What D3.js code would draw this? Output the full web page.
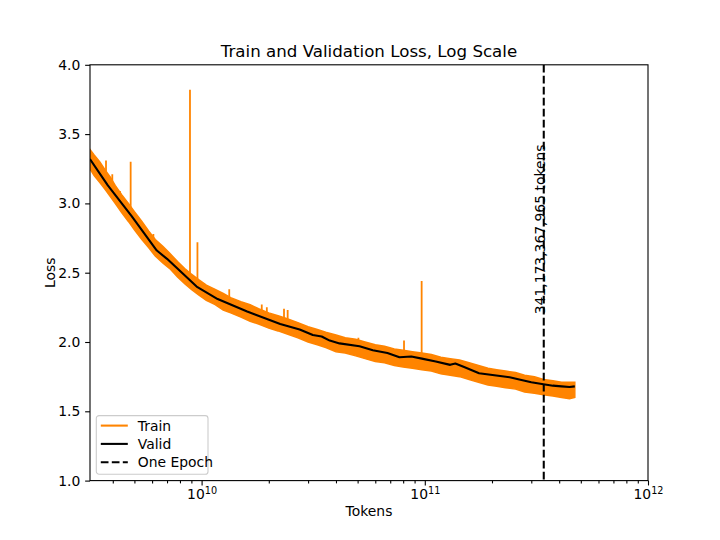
<!DOCTYPE html>
<html>
<head>
<meta charset="utf-8">
<script src="https://cdn.jsdelivr.net/npm/d3@7"></script>
<style>
    body { margin: 0; background: #fff; }
    text { font-family: "DejaVu Sans", sans-serif; fill: #000; }
</style>
</head>
<body>
<div id="loss-chart"></div>
<script>
// train loss band (upper and lower edge of the noisy curve)
var trainTokens = [3.16e9, 3.3e9, 3.5e9, 3.7e9, 3.9e9, 4.1e9, 4.4e9, 4.7e9, 5.0e9, 5.4e9,
    5.8e9, 6.2e9, 6.7e9, 7.2e9, 7.8e9, 8.4e9, 9.0e9, 9.7e9, 1.05e10, 1.15e10,
    1.25e10, 1.35e10, 1.5e10, 1.65e10, 1.8e10, 2.0e10, 2.2e10, 2.4e10, 2.7e10, 3.0e10,
    3.3e10, 3.6e10, 4.0e10, 4.4e10, 4.9e10, 5.4e10, 6.0e10, 6.6e10, 7.3e10, 8.0e10,
    8.8e10, 9.7e10, 1.07e11, 1.18e11, 1.3e11, 1.43e11, 1.58e11, 1.74e11, 1.92e11, 2.1e11,
    2.3e11, 2.55e11, 2.8e11, 3.1e11, 3.4e11, 3.75e11, 4.1e11, 4.45e11, 4.7e11];
var trainHigh = [3.39, 3.35, 3.30, 3.24, 3.19, 3.13, 3.06, 3.00, 2.94, 2.87,
    2.80, 2.74, 2.69, 2.64, 2.58, 2.53, 2.49, 2.45, 2.41, 2.38,
    2.35, 2.32, 2.29, 2.27, 2.24, 2.21, 2.19, 2.17, 2.14, 2.11,
    2.09, 2.07, 2.05, 2.03, 2.02, 2.00, 1.98, 1.97, 1.95, 1.94,
    1.93, 1.92, 1.91, 1.89, 1.88, 1.87, 1.85, 1.83, 1.81, 1.80,
    1.79, 1.78, 1.76, 1.75, 1.73, 1.72, 1.71, 1.71, 1.71];
var trainLow = [3.25, 3.20, 3.15, 3.10, 3.05, 3.00, 2.93, 2.87, 2.81, 2.74,
    2.68, 2.62, 2.57, 2.53, 2.47, 2.42, 2.38, 2.34, 2.30, 2.27,
    2.23, 2.21, 2.18, 2.15, 2.13, 2.10, 2.08, 2.06, 2.03, 2.00,
    1.98, 1.96, 1.93, 1.92, 1.90, 1.88, 1.86, 1.85, 1.83, 1.82,
    1.81, 1.80, 1.79, 1.77, 1.76, 1.75, 1.73, 1.71, 1.69, 1.68,
    1.67, 1.66, 1.64, 1.63, 1.62, 1.61, 1.60, 1.59, 1.60];

// loss spikes sticking out of the train band
var spikeTokens = [3.73e9, 3.98e9, 4.31e9, 4.81e9, 6.08e9, 8.87e9, 9.58e9, 1.33e10,
    1.86e10, 1.96e10, 2.34e10, 2.43e10, 5.04e10, 8.07e10, 9.68e10];
var spikeBase = [3.15, 3.08, 3.00, 2.90, 2.66, 2.42, 2.38, 2.26,
    2.18, 2.16, 2.12, 2.11, 1.96, 1.90, 1.88];
var spikePeak = [3.31, 3.21, 3.09, 3.30, 2.78, 3.82, 2.72, 2.38,
    2.27, 2.25, 2.24, 2.23, 2.03, 2.01, 2.44];

// validation loss
var validTokens = [3.16e9, 3.8e9, 4.85e9, 6.3e9, 7.0e9, 9.5e9, 1.18e10, 1.6e10, 2.25e10, 2.75e10,
    3.15e10, 3.45e10, 3.75e10, 4.15e10, 5.1e10, 5.85e10, 6.8e10, 7.7e10, 8.7e10, 9.7e10,
    1.12e11, 1.3e11, 1.37e11, 1.5e11, 1.75e11, 2.05e11, 2.4e11, 2.65e11, 3.0e11, 3.4e11,
    3.75e11, 4.1e11, 4.45e11, 4.7e11];
var validLoss = [3.32, 3.13, 2.91, 2.66, 2.60, 2.40, 2.31, 2.22, 2.13, 2.09,
    2.05, 2.04, 2.01, 1.99, 1.97, 1.94, 1.92, 1.89, 1.895, 1.88,
    1.86, 1.835, 1.845, 1.82, 1.775, 1.76, 1.745, 1.73, 1.71, 1.695,
    1.685, 1.68, 1.675, 1.68];

var epochTokens = 341173367965;
var epochLabel = "341,173,367,965 tokens";
var epochLabelLoss = 2.2;

var yTicks = [1.0, 1.5, 2.0, 2.5, 3.0, 3.5, 4.0];
var xTicks = [1e10, 1e11, 1e12];
var xExponents = ["10", "11", "12"];
var legendNames = ["Train", "Valid", "One Epoch"];

(function () {
    "use strict";

    // figure is 720x540, axes box follows the matplotlib default subplot
    var vWidth = 720, vHeight = 540;
    var vMargin = { mTop: 64.8, mRight: 72, mBottom: 59.4, mLeft: 90 };
    var vInnerW = vWidth - vMargin.mLeft - vMargin.mRight,
        vInnerH = vHeight - vMargin.mTop - vMargin.mBottom;
    var cOrange = "#ff8400";

    var svg = d3.select("#loss-chart")
        .append("svg")
        .attr("width", vWidth)
        .attr("height", vHeight);
    var g = svg.append("g")
        .attr("transform", "translate(" + vMargin.mLeft + "," + vMargin.mTop + ")");

    var vX = d3.scaleLog()
        .domain([Math.pow(10, 9.5), 1e12])
        .range([0, vInnerW]);
    var vY = d3.scaleLinear()
        .domain([1.0, 4.0])
        .range([vInnerH, 0]);

    g.append("clipPath").attr("id", "plot-clip")
        .append("rect").attr("width", vInnerW).attr("height", vInnerH);
    var plot = g.append("g").attr("clip-path", "url(#plot-clip)");

    // train band
    var vBand = trainTokens.map(function (aT, aI) {
        return { t: aT, hi: trainHigh[aI], lo: trainLow[aI] };
    });
    plot.append("path")
        .datum(vBand)
        .attr("fill", cOrange)
        .attr("stroke", cOrange)
        .attr("stroke-width", 1.5)
        .attr("d", d3.area()
            .x(function (d) { return vX(d.t); })
            .y0(function (d) { return vY(d.lo); })
            .y1(function (d) { return vY(d.hi); }));

    // spikes
    plot.selectAll("line.spike")
        .data(spikeTokens)
        .enter()
        .append("line")
        .attr("class", "spike")
        .attr("x1", function (d) { return vX(d); })
        .attr("x2", function (d) { return vX(d); })
        .attr("y1", function (d, i) { return vY(spikeBase[i]); })
        .attr("y2", function (d, i) { return vY(spikePeak[i]); })
        .attr("stroke", cOrange)
        .attr("stroke-width", 1.8);

    // valid
    plot.append("path")
        .datum(validTokens.map(function (aT, aI) { return [aT, validLoss[aI]]; }))
        .attr("fill", "none")
        .attr("stroke", "#000")
        .attr("stroke-width", 2.08)
        .attr("stroke-linejoin", "round")
        .attr("d", d3.line()
            .x(function (d) { return vX(d[0]); })
            .y(function (d) { return vY(d[1]); }));

    // one epoch marker
    plot.append("line")
        .attr("x1", vX(epochTokens)).attr("x2", vX(epochTokens))
        .attr("y1", 0).attr("y2", vInnerH)
        .attr("stroke", "#000")
        .attr("stroke-width", 2.08)
        .attr("stroke-dasharray", "7.7,3.3");
    g.append("text")
        .attr("transform", "translate(" + (vX(epochTokens) + 1.5) + "," + vY(epochLabelLoss) + ") rotate(-90)")
        .attr("font-size", "13.9px")
        .text(epochLabel);

    // axes
    var vYAxis = g.append("g")
        .call(d3.axisLeft(vY)
            .tickValues(yTicks)
            .tickFormat(d3.format(".1f"))
            .tickSize(4.86)
            .tickPadding(4.86));
    var vXMinor = vX.ticks().filter(function (d) { return xTicks.indexOf(d) < 0; });
    var vXAxisMinor = g.append("g")
        .attr("transform", "translate(0," + vInnerH + ")")
        .call(d3.axisBottom(vX)
            .tickValues(vXMinor)
            .tickFormat("")
            .tickSize(2.78));
    var vXAxis = g.append("g")
        .attr("transform", "translate(0," + vInnerH + ")")
        .call(d3.axisBottom(vX)
            .tickValues(xTicks)
            .tickFormat("")
            .tickSize(4.86));
    [vYAxis, vXAxis, vXAxisMinor].forEach(function (aAxis) {
        aAxis.select(".domain").remove();
        aAxis.selectAll(".tick line").attr("stroke", "#000").attr("stroke-width", 1.1);
        aAxis.selectAll(".tick text")
            .attr("fill", "#000")
            .style("font-family", "DejaVu Sans")
            .style("font-size", "13.9px");
    });

    // x tick labels as 10 with a raised exponent
    var vXLabels = vXAxis.selectAll(".tick")
        .append("text")
        .attr("y", 18.9)
        .attr("text-anchor", "middle")
        .style("font-size", "13.9px");
    vXLabels.append("tspan").text("10");
    vXLabels.append("tspan")
        .attr("dy", -5.6)
        .style("font-size", "9.7px")
        .text(function (d, i) { return xExponents[i]; });

    // spines
    g.append("rect")
        .attr("width", vInnerW)
        .attr("height", vInnerH)
        .attr("fill", "none")
        .attr("stroke", "#000")
        .attr("stroke-width", 1.1);

    // title and labels
    g.append("text")
        .attr("x", vInnerW / 2)
        .attr("y", -8.3)
        .attr("text-anchor", "middle")
        .attr("font-size", "16.67px")
        .text("Train and Validation Loss, Log Scale");
    g.append("text")
        .attr("x", vInnerW / 2)
        .attr("y", vInnerH + 35.5)
        .attr("text-anchor", "middle")
        .attr("font-size", "13.9px")
        .text("Tokens");
    g.append("text")
        .attr("transform", "translate(" + (-35) + "," + (vInnerH / 2) + ") rotate(-90)")
        .attr("text-anchor", "middle")
        .attr("font-size", "13.9px")
        .text("Loss");

    // legend
    var vLegend = g.append("g")
        .attr("transform", "translate(6.3," + (vInnerH - 65) + ")");
    vLegend.append("rect")
        .attr("width", 111.7)
        .attr("height", 58.6)
        .attr("rx", 2.8)
        .attr("fill", "#fff")
        .attr("fill-opacity", 0.8)
        .attr("stroke", "#cccccc")
        .attr("stroke-width", 1.1);
    var vStyles = [
        { color: cOrange, dash: null },
        { color: "#000", dash: null },
        { color: "#000", dash: "7.7,3.3" }
    ];
    var vItems = vLegend.selectAll("g.item")
        .data(legendNames)
        .enter()
        .append("g")
        .attr("class", "item")
        .attr("transform", function (d, i) { return "translate(0," + (10 + i * 18.3) + ")"; });
    vItems.append("line")
        .attr("x1", 4.5).attr("x2", 31.5)
        .attr("stroke", function (d, i) { return vStyles[i].color; })
        .attr("stroke-width", 2.08)
        .attr("stroke-dasharray", function (d, i) { return vStyles[i].dash; });
    vItems.append("text")
        .attr("x", 41.5)
        .attr("y", 5)
        .attr("font-size", "13.9px")
        .text(function (d) { return d; });
})();
</script>
</body>
</html>
